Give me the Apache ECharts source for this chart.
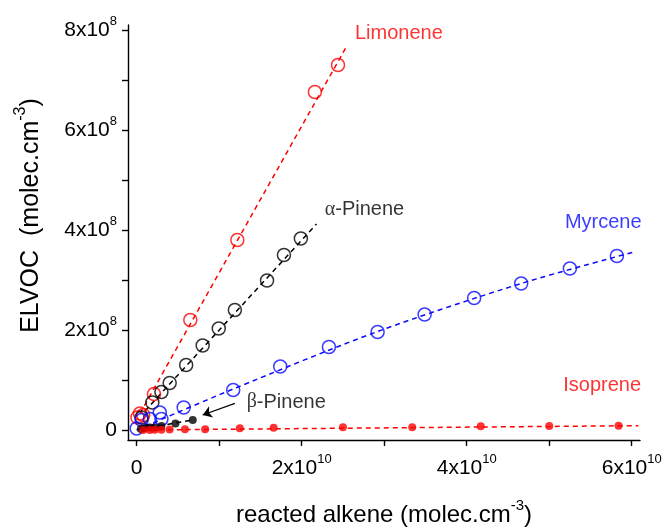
<!DOCTYPE html>
<html><head><meta charset="utf-8">
<script src="https://cdn.jsdelivr.net/npm/echarts@6/dist/echarts.min.js"></script>
<style>html,body{margin:0;padding:0;background:#fff}#c{width:666px;height:529px}</style>
</head><body><div id="c"></div>
<script>
// values in units of 1e10 (x) and 1e8 (y)
const X_UNIT = 1e10, Y_UNIT = 1e8;

const limoneneX = [0.01, 0.04, 0.08, 0.21, 0.65, 1.22, 2.16, 2.44];
const limoneneY = [0.25, 0.33, 0.30, 0.72, 2.20, 3.80, 6.76, 7.30];

const alphaPineneX = [0.06, 0.19, 0.30, 0.40, 0.60, 0.80, 0.995, 1.19, 1.58, 1.785, 1.99];
const alphaPineneY = [0.25, 0.55, 0.76, 0.94, 1.30, 1.69, 2.03, 2.40, 2.99, 3.50, 3.83];

const myrceneX = [0.00, 0.06, 0.16, 0.28, 0.30, 0.57, 1.17, 1.74, 2.33, 2.92, 3.49, 4.09, 4.66, 5.25, 5.82];
const myrceneY = [0.03, 0.20, 0.22, 0.35, 0.22, 0.45, 0.80, 1.27, 1.66, 1.96, 2.31, 2.64, 2.93, 3.23, 3.48];

const betaPineneX = [0.05, 0.10, 0.16, 0.22, 0.30, 0.47, 0.68];
const betaPineneY = [0.02, 0.04, 0.05, 0.05, 0.08, 0.13, 0.20];

const isopreneX = [0.08, 0.16, 0.22, 0.30, 0.40, 0.585, 0.83, 1.25, 1.66, 2.50, 3.34, 4.17, 5.00, 5.84];
const isopreneY = [0.00, 0.00, 0.005, 0.005, 0.01, 0.014, 0.014, 0.034, 0.046, 0.054, 0.054, 0.074, 0.08, 0.086];

// fitted trend lines
const limoneneFitX = [0.04, 2.54];
const limoneneFitY = [0.33, 7.66];
const alphaPineneFitX = [0.10, 2.18];
const alphaPineneFitY = [0.38, 4.12];
const myrceneFitX = [0.00, 1.17, 2.92, 4.66, 6.05];
const myrceneFitY = [0.00, 0.82, 1.97, 2.93, 3.57];
const betaPineneFitX = [0.05, 0.68];
const betaPineneFitY = [0.02, 0.20];
const isopreneFitX = [0.05, 6.08];
const isopreneFitY = [0.00, 0.087];

// tick values
const xLabelTicks = [0, 2, 4, 6];
const xMinorTicks = [0, 1, 2, 3, 4, 5, 6];
const yLabelTicks = [0, 2, 4, 6, 8];
const yMinorTicks = [0, 1, 2, 3, 4, 5, 6, 7, 8];

// annotation text anchors (data coords) and arrow
const labelNames = ['Limonene', '{g|α}-Pinene', 'Myrcene', 'Isoprene', '{g|β}-Pinene'];
const labelX = [2.646, 2.28, 5.19, 5.17, 1.333];
const labelY = [7.93, 4.41, 4.15, 0.90, 0.56];
const arrowFrom = [1.19, 0.533];
const arrowTo = [0.80, 0.30];

const RED = '#ff0000', BLUE = '#0a0aff', BLACK = '#000000';
const FONT = 'Liberation Sans, Arial, sans-serif';
const labelColors = [RED, BLACK, BLUE, RED, BLACK];

function pts(xs, ys) { return xs.map((x, i) => [x * X_UNIT, ys[i] * Y_UNIT]); }

function expLabel(v) {
  if (Math.abs(v) < 1e-9) return '{m|0}';
  const exp = Math.floor(Math.log10(Math.abs(v)) + 1e-9);
  const m = Math.round(v / Math.pow(10, exp));
  return '{m|' + m + 'x10}{e|' + exp + '}';
}

const tickRich = {
  m: { fontSize: 21, fontFamily: FONT, color: '#000', verticalAlign: 'bottom', lineHeight: 21 },
  e: { fontSize: 13, fontFamily: FONT, color: '#000', verticalAlign: 'bottom', padding: [0, 0, 13, 0], lineHeight: 13 }
};
const xNameRich = {
  m: { fontSize: 24, fontFamily: FONT, color: '#000', verticalAlign: 'bottom', lineHeight: 24 },
  e: { fontSize: 15, fontFamily: FONT, color: '#000', verticalAlign: 'bottom', padding: [0, 0, 14, 0], lineHeight: 15 }
};
const yNameRich = {
  m: { fontSize: 25, fontFamily: FONT, color: '#000', verticalAlign: 'bottom', lineHeight: 25 },
  e: { fontSize: 16, fontFamily: FONT, color: '#000', verticalAlign: 'bottom', padding: [0, 0, 15, 0], lineHeight: 16 }
};

function openSeries(name, xs, ys, color) {
  return {
    name, type: 'scatter', data: pts(xs, ys), symbol: 'circle', symbolSize: 13,
    itemStyle: { color: 'rgba(255,255,255,0)', borderColor: color, borderWidth: 1.5 },
    emphasis: { disabled: true }, z: 3
  };
}
function filledSeries(name, xs, ys, color) {
  return {
    name, type: 'scatter', data: pts(xs, ys), symbol: 'circle', symbolSize: 8,
    itemStyle: { color: color }, emphasis: { disabled: true }, z: 4
  };
}
function fitSeries(name, xs, ys, color, smooth) {
  return {
    name: name + ' fit', type: 'line', data: pts(xs, ys), showSymbol: false, symbol: 'none',
    smooth: smooth || false,
    lineStyle: { color, width: 1.5, type: [5, 4] }, emphasis: { disabled: true }, z: 2
  };
}

const chart = echarts.init(document.getElementById('c'), null, { renderer: 'canvas' });

const betaMarkers = filledSeries('β-Pinene', betaPineneX, betaPineneY, BLACK);
betaMarkers.markLine = {
  silent: true, symbol: ['none', 'arrow'], symbolSize: 9, label: { show: false },
  lineStyle: { color: BLACK, width: 1.2, type: 'solid' },
  data: [[{ coord: [arrowFrom[0] * X_UNIT, arrowFrom[1] * Y_UNIT] }, { coord: [arrowTo[0] * X_UNIT, arrowTo[1] * Y_UNIT] }]]
};

const option = {
  backgroundColor: '#ffffff',
  animation: false,
  grid: { left: 128, right: 26, top: 25, bottom: 89, containLabel: false, outerBoundsMode: 'none' },
  xAxis: {
    type: 'value', min: -0.105 * X_UNIT, max: 6.1 * X_UNIT,
    axisLine: { show: true, onZero: false, lineStyle: { color: '#000', width: 1.4 } },
    axisTick: { show: true, inside: false, length: 6, lineStyle: { color: '#000', width: 1.4 },
      customValues: xMinorTicks.map(v => v * X_UNIT) },
    axisLabel: { show: true, margin: 18, formatter: expLabel, rich: tickRich,
      customValues: xLabelTicks.map(v => v * X_UNIT) },
    splitLine: { show: false },
    name: '{m|reacted alkene (molec.cm}{e|-3}{m|)}',
    nameLocation: 'middle', nameGap: 63,
    nameTextStyle: { rich: xNameRich }
  },
  yAxis: {
    type: 'value', min: -0.2 * Y_UNIT, max: 8.1 * Y_UNIT,
    axisLine: { show: true, onZero: false, lineStyle: { color: '#000', width: 1.4 } },
    axisTick: { show: true, inside: false, length: 6, lineStyle: { color: '#000', width: 1.4 },
      customValues: yMinorTicks.map(v => v * Y_UNIT) },
    axisLabel: { show: true, margin: 11, formatter: expLabel, rich: tickRich,
      customValues: yLabelTicks.map(v => v * Y_UNIT) },
    splitLine: { show: false },
    name: '{m|ELVOC  (molec.cm}{e|-3}{m|)}',
    nameLocation: 'middle', nameGap: 84, nameRotate: 90,
    nameTextStyle: { rich: yNameRich, padding: [0, 0, 0, 34] }
  },
  series: [
    fitSeries('Isoprene', isopreneFitX, isopreneFitY, RED),
    fitSeries('Limonene', limoneneFitX, limoneneFitY, RED),
    fitSeries('α-Pinene', alphaPineneFitX, alphaPineneFitY, BLACK),
    fitSeries('Myrcene', myrceneFitX, myrceneFitY, BLUE, 0.3),
    fitSeries('β-Pinene', betaPineneFitX, betaPineneFitY, BLACK),
    openSeries('Limonene', limoneneX, limoneneY, RED),
    openSeries('α-Pinene', alphaPineneX, alphaPineneY, BLACK),
    openSeries('Myrcene', myrceneX, myrceneY, BLUE),
    betaMarkers,
    filledSeries('Isoprene', isopreneX, isopreneY, RED),
    {
      name: 'labels', type: 'scatter', symbolSize: 0, silent: true, z: 5,
      data: labelNames.map((t, i) => ({
        value: [labelX[i] * X_UNIT, labelY[i] * Y_UNIT],
        label: {
          show: true, position: 'right', distance: 0, formatter: t,
          color: labelColors[i], fontSize: 20, fontFamily: FONT,
          rich: { g: { fontFamily: 'Liberation Serif, Times New Roman, serif', fontSize: 20, color: labelColors[i] } }
        }
      }))
    }
  ]
};
chart.setOption(option);
</script>
</body></html>
